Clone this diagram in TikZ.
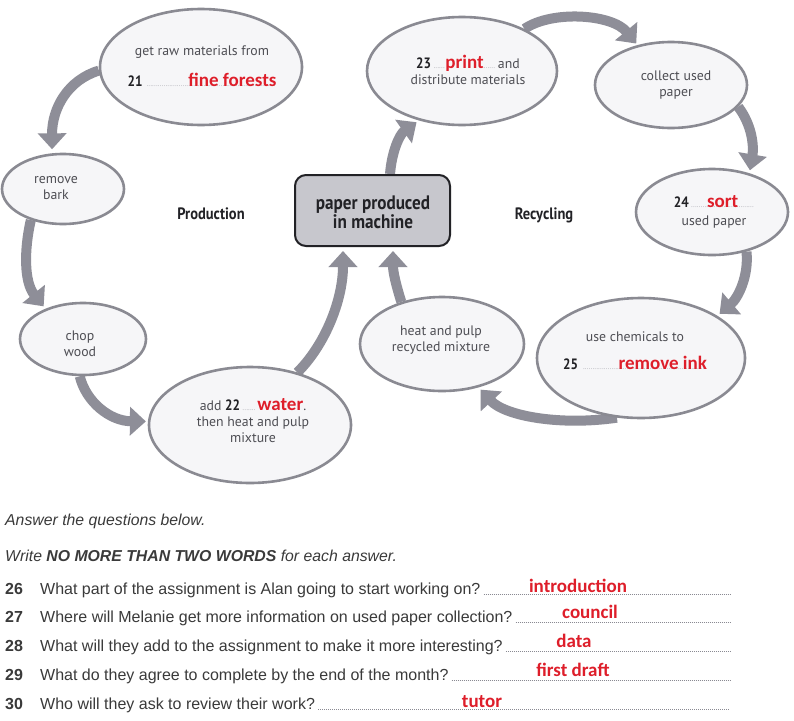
\documentclass[tikz,border=0pt]{standalone}
\usepackage{fontspec}
\setmainfont{Liberation Sans}
\newfontfamily\dia{PT Sans}
\newfontfamily\cond{PT Sans}[FakeStretch=0.88]
\newfontfamily\ansf{Carlito}
\usetikzlibrary{shapes.geometric,arrows.meta,backgrounds}
\definecolor{arrowgray}{HTML}{8E8E98}
\definecolor{bubgray}{HTML}{8A8A92}
\definecolor{bubfill}{HTML}{F6F6F8}
\definecolor{boxfill}{HTML}{C7C7CD}
\definecolor{boxline}{HTML}{222226}
\definecolor{txtgray}{HTML}{4E4E54}
\definecolor{numblack}{HTML}{222226}
\definecolor{ansred}{RGB}{222,30,42}
\definecolor{dotgray}{HTML}{8A8A92}
\definecolor{qtext}{HTML}{3A3A3A}
\newcommand{\dotrule}[1]{\hbox to #1{\color{dotgray}\fontsize{6}{6}\selectfont\leaders\hbox to 1.9pt{\hss.\hss}\hfill}}
\newcommand{\redans}[1]{{\ansf\bfseries\fontsize{19}{19}\selectfont\color{ansred}#1}}
\newcommand{\filled}[3]{\rlap{\dotrule{#1}}\makebox[#1][#2]{\redans{#3}}}
\newcommand{\numf}[1]{{\cond\bfseries\fontsize{15}{16}\selectfont\color{numblack}#1}}
\begin{document}
\begin{tikzpicture}[x=1pt,y=-1pt,
  bub/.style={ellipse, draw=bubgray, line width=2.6pt, fill=bubfill, inner sep=0pt},
  dtxt/.style={font=\dia\fontsize{13.8}{16}\selectfont, text=txtgray, align=center, inner sep=0pt},
  flow/.style={draw=arrowgray, line width=10pt, -{Triangle[width=28pt,length=16pt]}, shorten >=3pt},
  mainbox/.style={draw=boxline, line width=2pt, fill=boxfill, rounded corners=11pt, minimum width=155pt, minimum height=71pt, inner sep=0pt},
  sect/.style={font=\cond\bfseries\fontsize{16.5}{18}\selectfont, text=numblack, inner sep=0pt},
  itx/.style={font=\itshape\fontsize{15.8}{18}\selectfont, text=qtext, inner sep=0pt, anchor=base west},
  qnum/.style={font=\bfseries\fontsize{16}{18}\selectfont, text=qtext, inner sep=0pt, anchor=base west},
  qtx/.style={font=\fontsize{16}{18}\selectfont, text=qtext, inner sep=0pt, anchor=base west},
  ans/.style={font=\ansf\bfseries\fontsize{19}{19}\selectfont, text=ansred, inner sep=0pt, anchor=base},
  qdots/.style={draw=dotgray, line width=0.9pt, dash pattern=on 0.9pt off 1.1pt}]
\useasboundingbox (0,0) rectangle (794,720);
% bubbles
\node[bub, minimum width=202pt, minimum height=116pt] (e1) at (201,67) {};
\node[bub, minimum width=122pt, minimum height=70pt] (e2) at (63,189) {};
\node[bub, minimum width=126pt, minimum height=72pt] (e3) at (83,339) {};
\node[bub, minimum width=202pt, minimum height=116pt] (e4) at (250,425) {};
\node[mainbox] (box) at (372.5,210.5) {};
\node[bub, minimum width=190pt, minimum height=108pt] (e5) at (462,71) {};
\node[bub, minimum width=152pt, minimum height=86pt] (e6) at (671,85) {};
\node[bub, minimum width=152pt, minimum height=86pt] (e7) at (712,212) {};
\node[bub, minimum width=208pt, minimum height=120pt] (e8) at (641,358) {};
\node[bub, minimum width=164pt, minimum height=94pt] (e9) at (442,344) {};
% texts
\node[dtxt] (t1) at (202,66) {get raw materials from\\[14pt]\numf{21}\hspace{4pt}\filled{130pt}{r}{fine forests}};
\node[dtxt] (t2) at (56,188) {remove\\bark};
\node[dtxt] (t3) at (80,344) {chop\\wood};
\node[dtxt] (t4) at (253,421) {add \numf{22}\,\dotrule{15pt}\redans{water}.\\then heat and pulp\\mixture};
\node[dtxt] (t5) at (468,70) {\numf{23}\,\dotrule{12pt}\redans{print}\dotrule{12pt}\,and\\distribute materials};
\node[dtxt] (t6) at (676,85) {collect used\\paper};
\node[dtxt] (t7) at (714,212) {\numf{24}\,\filled{63pt}{c}{sort}\\[2pt]used paper};
\node[dtxt] (t8) at (635,351) {use chemicals to\\[12pt]\numf{25}\hspace{5pt}\filled{124pt}{r}{remove ink}};
\node[dtxt] (t9) at (441,340) {heat and pulp\\recycled mixture};
\node[font=\cond\bfseries\fontsize{19.5}{19}\selectfont, text=numblack, align=center, inner sep=0pt] (tb) at (373,212) {paper produced\\in machine};
\node[sect] (prod) at (211,214) {Production};
\node[sect] (recy) at (544,215) {Recycling};
% arrows
\begin{scope}[on background layer]
\fill[white] (0,0) rectangle (794,720);
\draw[flow, shorten >=4pt] (e1.182) .. controls (68,80) and (52,108) .. (e2.107);
\draw[flow] (e2.224) .. controls (24,250) and (24,282) .. (e3.141);
\draw[flow, shorten >=2pt] (e3.265) .. controls (86,402) and (110,421) .. (e4.178);
\draw[flow, shorten >=4pt] (e4.48) .. controls (325,345) and (343,300) .. ([xshift=-29.5pt]box.south);
\draw[flow, shorten >=4pt] (e9.134) .. controls (396,285) and (393,272) .. ([xshift=20.5pt]box.south);
\draw[flow] ([xshift=17.5pt]box.north) .. controls (392,150) and (400,134) .. (e5.229);
\draw[flow, shorten >=2pt] (e5.34) .. controls (552,10) and (612,14) .. (e6.130);
\draw[flow] (e6.342) .. controls (752,125) and (754,146) .. (e7.46);
\draw[flow] (e7.311) .. controls (749,276) and (738,298) .. (e8.29);
\draw[flow] (e8.248) .. controls (560,426) and (505,416) .. (e9.310);
\end{scope}
% questions
\node[itx] (hA) at (5,525) {Answer the questions below.};
\node[itx] (hB) at (5,561) {Write \textbf{NO MORE THAN TWO WORDS} for each answer.};
\node[qnum] (n26) at (5,594) {26};
\node[qtx] (q26) at (40,594) {What part of the assignment is Alan going to start working on?};
\node[qnum] (n27) at (5,622) {27};
\node[qtx] (q27) at (40,622) {Where will Melanie get more information on used paper collection?};
\node[qnum] (n28) at (5,651) {28};
\node[qtx] (q28) at (40,651) {What will they add to the assignment to make it more interesting?};
\node[qnum] (n29) at (5,680) {29};
\node[qtx] (q29) at (40,680) {What do they agree to complete by the end of the month?};
\node[qnum] (n30) at (5,709) {30};
\node[qtx] (q30) at (40,709) {Who will they ask to review their work?};
\coordinate (d26) at (730,594);
\coordinate (d27) at (730,622);
\coordinate (d28) at (730,651);
\coordinate (d29) at (730,680);
\coordinate (d30) at (730,709);
\draw[qdots] ([xshift=3pt]q26.base east) -- (d26);
\draw[qdots] ([xshift=3pt]q27.base east) -- (d27);
\draw[qdots] ([xshift=3pt]q28.base east) -- (d28);
\draw[qdots] ([xshift=3pt]q29.base east) -- (d29);
\draw[qdots] ([xshift=3pt]q30.base east) -- (d30);
\node[ans] (a26) at (578,592) {introduction};
\node[ans] (a27) at (590,618) {council};
\node[ans] (a28) at (574,647) {data};
\node[ans] (a29) at (573,676) {first draft};
\node[ans] (a30) at (482,707) {tutor};
\end{tikzpicture}
\end{document}
